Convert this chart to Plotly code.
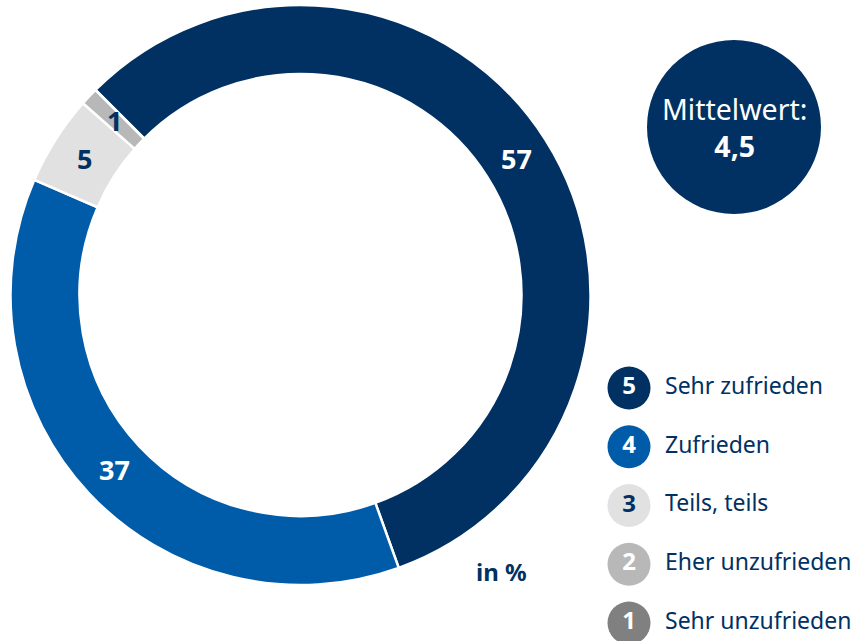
import math
import plotly.graph_objects as go

# ---- data ----
labels = ["Sehr zufrieden", "Zufrieden", "Teils, teils", "Eher unzufrieden", "Sehr unzufrieden"]
scores = [5, 4, 3, 2, 1]
values = [57, 37, 5, 1, 0]
colors = ["#003162", "#005CA9", "#E1E1E1", "#B8B8B8", "#808080"]
label_font_colors = ["white", "white", "#003162", "#003162", "#003162"]
mean_label = "Mittelwert:"
mean_value = "4,5"
unit_label = "in %"

W, H = 856, 641
NAVY = "#003162"
FONT = "Noto Sans"


def px2x(px):
    return px / W


def py2y(py):
    return 1 - py / H


# donut geometry (screen pixels)
cx, cy, R = 300.5, 295, 290
hole = 0.762
rotation = -45

fig = go.Figure()
fig.add_trace(go.Pie(
    labels=labels, values=values, sort=False, direction="clockwise",
    rotation=rotation, hole=hole,
    marker=dict(colors=colors, line=dict(color="white", width=2.5)),
    textinfo="none", hoverinfo="label+value", showlegend=False,
    domain=dict(x=[px2x(cx - R), px2x(cx + R)], y=[py2y(cy + R), py2y(cy - R)]),
))

# slice value labels, positioned from cumulative values
total = sum(values)
r_mid = R * (1 + hole) / 2
cum = 0
annotations = []
for v, fc in zip(values, label_font_colors):
    if v > 0:
        ang = math.radians(rotation + 360 * (cum + v / 2) / total)
        px = cx + r_mid * math.sin(ang)
        py = cy - r_mid * math.cos(ang)
        annotations.append(dict(
            x=px2x(px), y=py2y(py), xref="paper", yref="paper", showarrow=False,
            text=f"<b>{v}</b>", font=dict(family=FONT, size=27, color=fc),
            xanchor="center", yanchor="middle"))
    cum += v

# legend as scatter on its own axes (x in screen px from 600)
fig.add_trace(go.Scatter(
    x=[29] * len(scores), y=scores, mode="markers+text",
    marker=dict(size=43, color=colors, line=dict(width=0)),
    text=[f"<b>{s}</b>" for s in scores], textposition="middle center",
    textfont=dict(family=FONT, size=24, color=["white", "white", NAVY, "white", "white"]),
    xaxis="x2", yaxis="y2", showlegend=False, hoverinfo="skip"))
fig.add_trace(go.Scatter(
    x=[65] * len(scores), y=scores, mode="text",
    text=labels, textposition="middle right",
    textfont=dict(family=FONT, size=23, color=NAVY),
    xaxis="x2", yaxis="y2", showlegend=False, hoverinfo="skip"))

# mean circle
mcx, mcy, mr = 734, 127, 87
fig.add_shape(type="circle", xref="paper", yref="paper",
              x0=px2x(mcx - mr), x1=px2x(mcx + mr),
              y0=py2y(mcy + mr), y1=py2y(mcy - mr),
              fillcolor=NAVY, line=dict(width=0), layer="below")
annotations.append(dict(
    x=px2x(mcx), y=py2y(mcy), xref="paper", yref="paper", showarrow=False,
    text=f"{mean_label}<br><b>{mean_value}</b>", align="center",
    font=dict(family=FONT, size=28.5, color="white"), xanchor="center", yanchor="middle"))

annotations.append(dict(
    x=px2x(501), y=py2y(571), xref="paper", yref="paper", showarrow=False,
    text=f"<b>{unit_label}</b>", font=dict(family=FONT, size=24, color=NAVY),
    xanchor="center", yanchor="middle"))

step = 58.75
a = 388 + 5 * step
top_px, bot_px = 360, 641
fig.update_layout(
    width=W, height=H, margin=dict(l=0, r=0, t=0, b=0),
    paper_bgcolor="white", plot_bgcolor="white",
    annotations=annotations,
    xaxis2=dict(domain=[px2x(600), 1], range=[0, 856 - 600], visible=False, fixedrange=True),
    yaxis2=dict(domain=[0, py2y(top_px)], range=[(a - bot_px) / step, (a - top_px) / step],
                visible=False, fixedrange=True, anchor="x2"),
)
fig.write_html("out.html", config={"displayModeBar": False},
               post_script="document.body.style.margin='0';document.body.style.overflow='hidden';")
